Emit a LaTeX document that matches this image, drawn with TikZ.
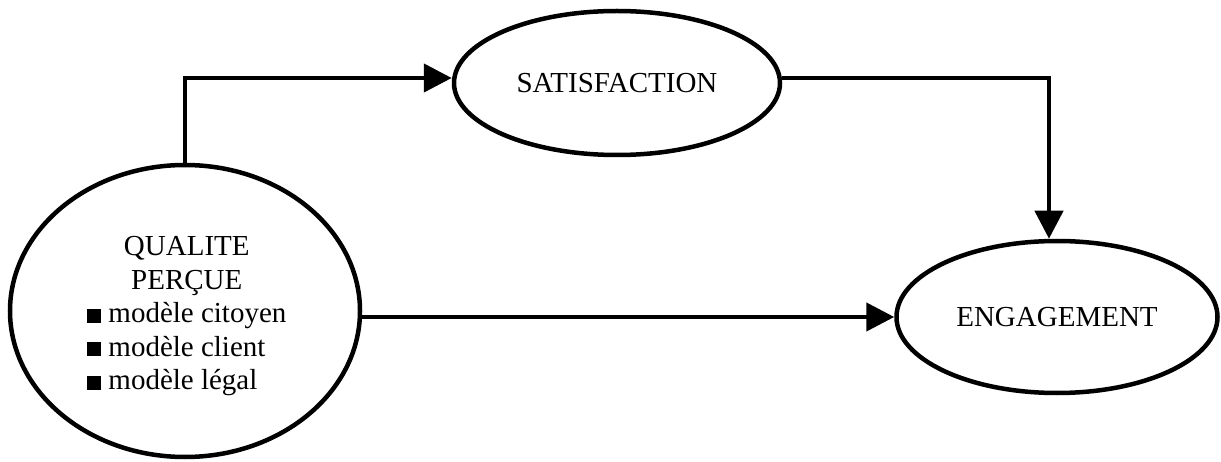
\documentclass[tikz,border=0pt]{standalone}
\usepackage{fontspec}
\setmainfont{Liberation Serif}
\usetikzlibrary{arrows.meta,shapes.geometric}
\begin{document}
\begin{tikzpicture}[x=1pt,y=1pt,
  bubble/.style={ellipse,draw,line width=4.5pt,inner sep=0pt,
    font=\fontsize{29}{33.5}\selectfont},
  link/.style={line width=4.5pt,-{Triangle[length=28pt,width=28pt]}},
  lbl/.style={font=\fontsize{29}{33.5}\selectfont,inner sep=0pt}]
\useasboundingbox (0,0) rectangle (1221,461);
% nodes
\node[bubble,minimum width=350pt,minimum height=292pt] (q) at (185,150) {};
\node[bubble,minimum width=326pt,minimum height=144pt] (s) at (617,378) {SATISFACTION};
\node[bubble,minimum width=321pt,minimum height=152pt] (e) at (1057,144) {ENGAGEMENT};
\node[lbl,anchor=base west] (qtext) at (87,205) {%
  \begin{tabular}[t]{@{}l@{}}
  \multicolumn{1}{@{}c@{}}{QUALITE}\\
  \multicolumn{1}{@{}c@{}}{PERÇUE}\\
  \rule{14pt}{14pt} modèle citoyen\\
  \rule{14pt}{14pt} modèle client\\
  \rule{14pt}{14pt} modèle légal
  \end{tabular}};
% connectors
\draw[link] (q.north) |- ([yshift=5pt]s.west);
\draw[link] ([yshift=5pt]s.east) -| ([xshift=-8pt]e.north);
\draw[link] (q.east |- e.west) -- (e.west);
\end{tikzpicture}
\end{document}
